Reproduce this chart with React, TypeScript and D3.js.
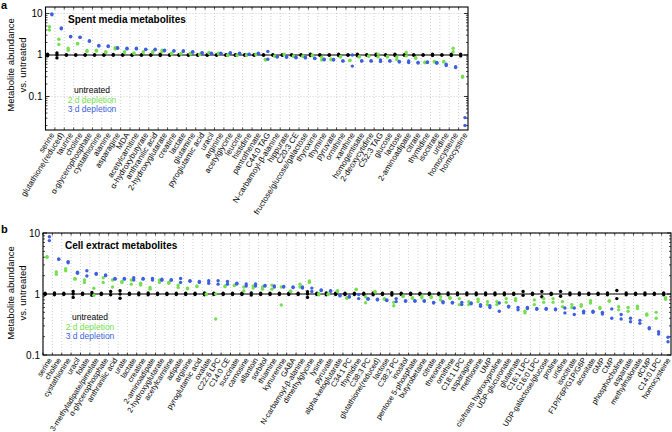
import React from 'react';
import * as d3 from 'd3';

const catsA = ['serine','glutathione(reduced)','taurine','choline','α-glycerophosphate','cystathionine','alanine','asparagine','MDA','acetylcarnitine','α-hydroxybutyrate','anthranilic acid','2-hydroxyglutarate','creatine','lactate','glutamine','pyroglutamic acid','uracil','arginine','acetylglycine','leucine','histidine','pantothenate','C44:0 TAG','N-carbamoyl-β-alanine','hippurate','C20:3 CE','fructose/glucose/galactose','thyroxine','thymine','pyruvate','ornithine','xanthine','homogentisate','2-deoxycytidine','C52:3 TAG','glucose','lactose','2-aminoadipate','citrate','thymidine','isocitrate','uridine','homocysteine','homocystine'];

const untreatedA = [[1.05,1.0,0.96],[1.12,1.0,0.85],[1.02,0.98],[1.02,0.98],[1.02,0.98],[1.02,0.98],[1.02,0.98],[1.03,0.98],[1.02,0.98],[1.02,0.98],[1.02,0.98],[1.02,0.98],[1.04,0.97],[1.02,0.98],[1.02,0.98],[1.02,0.98],[1.02,0.98],[1.02,0.98],[1.02,0.98],[1.02,0.98],[1.02,0.98],[1.02,0.98],[1.02,0.98],[1.02,0.98],[1.02,0.98],[1.02,0.98],[1.02,0.98],[1.02,0.98],[1.04,0.97],[1.02,0.98],[1.02,0.98],[1.04,0.97],[1.02,0.98],[1.04,0.96],[1.02,0.98],[1.04,0.97],[1.02,0.98],[1.04,0.97],[1.02,0.98],[1.02,0.98],[1.02,0.98],[1.04,0.97],[1.02,0.98],[1.04,0.97],[1.05,0.95]];

const depl2A = [[4.8,4.0],[2.4,1.8],[1.45,1.3],[1.9,1.85],[1.28,1.22],[1.3,1.25],[1.2,1.15],[1.5,1.4],[1.2,1.15],[1.12,1.08],[1.2,1.15],[1.2,1.15],[1.3,1.2],[1.1,1.05],[1.08,1.05],[1.1,1.05],[1.05,1.02],[1.15,1.1],[1.1,1.05],[1.0,0.97],[1.0,0.98],[1.02,0.98],[1.05,1.02],[0.78,0.76],[0.95,0.93],[1.05,1.02],[0.95,0.93],[0.95,0.92],[1.0,0.97],[0.88,0.76],[0.8,0.77],[0.92,0.89],[0.75,0.73],[0.92,0.89],[0.95,0.93],[1.05,0.9],[0.92,0.9],[0.9,0.78],[1.15,0.95],[0.86,0.84],[0.67,0.65],[0.7,0.68],[0.7,0.68],[1.45,1.2],[0.31,0.29]];

const depl3A = [[9.8,9.3],[4.5,4.3],[2.8,2.75],[2.7,2.65],[2.2,2.15],[1.7,1.65],[1.65,1.6],[1.5,1.45],[1.45,1.4],[1.45,1.4],[1.38,1.35],[1.37,1.33],[1.3,1.27],[1.27,1.24],[1.27,1.22],[1.2,1.17],[1.14,1.12],[1.1,1.08],[1.1,1.08],[1.14,1.1],[1.1,1.08],[1.05,1.03],[1.1,1.07],[1.22,0.79],[0.91,0.9],[0.91,0.88],[0.88,0.86],[0.88,0.85],[0.84,0.82],[0.79,0.77],[0.78,0.76],[0.73,0.71],[1.0,0.54],[0.73,0.71],[0.73,0.71],[0.76,0.7],[0.73,0.71],[0.7,0.68],[0.72,0.66],[0.66,0.64],[0.68,0.66],[0.66,0.63],[0.6,0.56],[0.52,0.5],[0.031,0.02]];

const catsB = ['serine','choline','cystathionine','uracil','folate','3-methyladipate/pimelate','α-glycerophosphate','anthranilic acid','urate','lactate','creatine','2-aminoadipate','2-hydroxyglutarate','acetylcarnitine','adipate','arginine','pyroglutamic acid','oxalate','C22:6 LPC','C14:0 CE','succinate','carnosine','allantoin','sorbitol','thiamine','kynurenine','GABA','N-carbamoyl-β-alanine','dimethylglycine','lysine','pyruvate','alpha-ketoglutarate','C34:1 PC','thymidine','C38:3 PC','glutathione(reduced)','lactose','C38:2 PC','inositol','pentose 5-phosphate','butyrobetaine','citrate','threonine','ornithine','C18:1 LPC','asparagine','methionine','UMP','cis/trans hydroxyproline','UDP-glucuronate','glutamate','C16:1 LPC','C16:0 LPC','UDP-galactose/glucose','proline','uridine','isocitrate','F1P/F6P/G1P/G6P','aconitate','GMP','CMP','phosphocholine','aspartate','methylmalonate','dCMP','C14:0 LPC','homocysteine'];

const untreatedB = [[1.03,0.98],[1.04,0.97],[1.03,0.98],[1.1,1.0,0.88],[1.03,0.98],[1.06,0.95],[1.03,0.98],[1.1,0.97],[1.13,1.0,0.85],[1.03,0.98],[1.04,0.97],[1.04,0.97],[1.03,0.98],[1.03,0.98],[1.03,0.98],[1.03,0.98],[1.03,0.98],[1.04,0.97],[1.03,0.98],[1.03,0.98],[1.03,0.98],[1.03,0.98],[1.04,0.96],[1.03,0.98],[1.03,0.98],[1.03,0.98],[1.03,0.98],[1.03,0.98],[1.09,1.0,0.88],[1.03,0.98],[1.04,0.97],[1.03,0.98],[1.03,0.98],[1.03,0.98],[1.03,0.98],[1.04,0.97],[1.03,0.98],[1.05,0.96],[1.03,0.98],[1.03,0.98],[1.03,0.98],[1.03,0.98],[1.03,0.98],[1.04,0.97],[1.04,0.97],[1.04,0.97],[1.04,0.97],[1.04,0.97],[1.04,0.97],[1.04,0.97],[1.03,0.98],[1.1,0.95],[1.03,0.98],[1.1,0.9],[1.03,0.98],[1.1,0.92],[1.04,0.97],[1.04,0.97],[1.03,0.98],[1.03,0.98],[1.04,0.97],[1.14,0.84],[1.04,0.97],[1.03,0.98],[1.04,0.97],[1.03,0.98],[1.04,0.97]];

const depl2B = [[4.1,4.0],[2.3,2.1],[2.6,2.4],[1.8,1.75],[1.7,1.55],[1.24,0.95],[1.85,1.55],[1.7,1.3],[1.6,1.55],[1.7,1.45],[1.5,1.4],[1.28,1.2],[1.7,1.55],[1.55,1.5],[1.4,1.28],[1.25,1.22],[1.35,1.32],[1.0,0.98],[1.0,0.39],[1.35,1.32],[1.4,1.38],[1.3,1.12],[1.35,1.25],[1.3,1.2],[1.4,1.2],[1.3,0.66],[1.12,1.1],[1.45,1.3],[1.63,1.55],[1.02,0.97],[1.0,0.98],[1.13,1.1],[0.87,0.85],[1.2,1.18],[0.9,0.72],[1.1,1.08],[0.84,0.82],[0.73,0.64],[0.93,0.91],[0.87,0.85],[0.93,0.87],[0.9,0.88],[0.9,0.8],[0.87,0.85],[0.84,0.67],[0.75,0.67],[0.82,0.75],[0.75,0.67],[0.75,0.67],[0.84,0.73],[0.84,0.78],[0.52,0.49],[0.8,0.67],[0.84,0.73],[0.84,0.73],[0.75,0.62],[0.67,0.6],[0.67,0.63],[0.78,0.71],[0.6,0.58],[0.78,0.76],[0.62,0.55],[0.6,0.52],[0.63,0.58],[0.47,0.45],[0.5,0.4],[0.87,0.82]];

const depl3B = [[8.7,7.5],[3.75,3.7],[3.4,3.25],[2.27,2.18],[2.4,1.97],[2.18,2.1],[2.05,2.0],[1.8,1.75],[1.8,1.75],[1.85,1.7],[1.8,1.75],[1.8,1.7],[1.75,1.68],[1.72,1.68],[1.8,1.55],[1.65,1.62],[1.6,1.55],[1.65,1.5],[1.65,1.45],[1.6,1.45],[1.5,1.46],[1.46,1.35],[1.46,1.35],[1.38,1.35],[1.35,1.3],[1.33,1.3],[1.3,1.28],[1.3,1.25],[1.25,1.1],[1.16,1.14],[1.13,1.11],[0.95,0.93],[0.91,0.89],[0.98,0.84],[0.84,0.82],[0.82,0.8],[0.8,0.78],[0.84,0.75],[0.78,0.76],[0.78,0.76],[0.78,0.76],[0.73,0.71],[0.75,0.72],[0.73,0.71],[0.73,0.67],[0.71,0.69],[0.67,0.63],[0.64,0.6],[0.71,0.52],[0.63,0.61],[0.6,0.55],[0.6,0.58],[0.58,0.56],[0.58,0.56],[0.57,0.55],[0.59,0.49],[0.59,0.46],[0.52,0.49],[0.52,0.5],[0.5,0.47],[0.57,0.4],[0.46,0.39],[0.4,0.35],[0.37,0.33],[0.28,0.27],[0.24,0.22],[0.195,0.165]];

const yTickVals = [10, 1, 0.1];
const yTickLabels = ['10', '1', '0.1'];
const legendLabels = ['untreated', '2 d depletion', '3 d depletion'];

const BLACK = '#000000';
const GREEN = '#74e04f';
const BLUE = '#3d5fe0';
const FONT = 'Liberation Sans, Arial, Helvetica, sans-serif';

type PanelProps = {
  cats: string[]; ctl: number[][]; g2: number[][]; b3: number[][];
  L: number; R: number; T: number; B: number; yLo: number; yHi: number;
  title: string; titleX: number; titleY: number; legX: number; legY: number;
  letter: string; letterY: number; ylabelY: number; labelSize: number;
};

function Panel(p: PanelProps) {
  const n = p.cats.length;
  const x = d3.scaleLinear().domain([1, n + 1]).range([p.L, p.R]);
  const y = d3.scaleLog().domain([p.yLo, p.yHi]).range([p.B, p.T]);
  const eLo = Math.floor(Math.log10(p.yLo));
  const eHi = Math.ceil(Math.log10(p.yHi));
  const minor: number[] = [];
  const major: number[] = [];
  for (let e = eLo; e <= eHi; e++) {
    for (let m = 1; m <= 9; m++) {
      const v = m * Math.pow(10, e);
      if (v >= p.yLo * 0.999 && v <= p.yHi * 1.001) (m === 1 ? major : minor).push(v);
    }
  }
  const idx = d3.range(1, n + 1);
  const series = [
    { data: p.ctl, off: 0.22, color: BLACK, r: 1.7 },
    { data: p.g2, off: 0.42, color: GREEN, r: 1.7 },
    { data: p.b3, off: 0.68, color: BLUE, r: 1.7 },
  ];
  return (
    <g>
      {idx.map((k) => (
        <line key={'g' + k} x1={x(k)} x2={x(k)} y1={p.T} y2={p.B} stroke="#b0b0b0" strokeWidth={0.6} strokeDasharray="1,2" />
      ))}
      {major.map((v) => (
        <line key={'hg' + v} x1={p.L} x2={p.R} y1={y(v)} y2={y(v)} stroke="#b0b0b0" strokeWidth={0.6} strokeDasharray="1,2" />
      ))}
      {idx.map((k) => (
        <g key={'t' + k}>
          <line x1={x(k)} x2={x(k)} y1={p.T} y2={p.T + 2.5} stroke="#000" strokeWidth={0.7} />
          <line x1={x(k)} x2={x(k)} y1={p.B} y2={p.B - 2.5} stroke="#000" strokeWidth={0.7} />
        </g>
      ))}
      {minor.map((v) => (
        <g key={'m' + v}>
          <line x1={p.L} x2={p.L + 2} y1={y(v)} y2={y(v)} stroke="#000" strokeWidth={0.7} />
          <line x1={p.R} x2={p.R - 2} y1={y(v)} y2={y(v)} stroke="#000" strokeWidth={0.7} />
        </g>
      ))}
      {major.map((v) => (
        <g key={'M' + v}>
          <line x1={p.L} x2={p.L + 4} y1={y(v)} y2={y(v)} stroke="#000" strokeWidth={0.8} />
          <line x1={p.R} x2={p.R - 4} y1={y(v)} y2={y(v)} stroke="#000" strokeWidth={0.8} />
        </g>
      ))}
      <line x1={p.L} x2={p.R} y1={y(1)} y2={y(1)} stroke="#000" strokeWidth={1.1} />
      {series.map((s, si) => (
        <g key={'s' + si}>
          {s.data.map((vals, i) =>
            vals.map((v, j) => (
              <circle key={i + '-' + j} cx={x(i + 1 + s.off)} cy={y(v)} r={s.r} fill={s.color} />
            ))
          )}
        </g>
      ))}
      <rect x={p.L} y={p.T} width={p.R - p.L} height={p.B - p.T} fill="none" stroke="#000" strokeWidth={1.1} />
      {yTickVals.map((v, i) => (
        <text key={'yl' + i} x={p.L - 3} y={y(v)} dy="0.35em" textAnchor="end" fontSize={10} fontFamily={FONT}>{yTickLabels[i]}</text>
      ))}
      {p.cats.map((c, i) => {
        const ax = x(i + 1.75);
        const ay = p.B + 3.5;
        return (
          <text key={'c' + i} transform={`translate(${ax},${ay}) rotate(-58)`} textAnchor="end" dominantBaseline="central" fontSize={p.labelSize} fontFamily={FONT}>{c}</text>
        );
      })}
      <text transform={`translate(14,${p.ylabelY}) rotate(-90)`} textAnchor="middle" fontSize={9.5} fontFamily={FONT}>Metabolite abundance</text>
      <text transform={`translate(26,${p.ylabelY}) rotate(-90)`} textAnchor="middle" fontSize={9.5} fontFamily={FONT}>vs. untreated</text>
      <text x={p.titleX} y={p.titleY} fontSize={10} fontWeight="bold" fontFamily={FONT}>{p.title}</text>
      {legendLabels.map((l, i) => (
        <text key={'lg' + i} x={p.legX} y={p.legY + i * 9.7} textAnchor="middle" fontSize={8.5} fontFamily={FONT} fill={[BLACK, GREEN, BLUE][i]}>{l}</text>
      ))}
      <text x={1} y={p.letterY} fontSize={11} fontWeight="bold" fontFamily={FONT}>{p.letter}</text>
    </g>
  );
}

export default function App() {
  return (
    <svg width={672} height={432} style={{ position: 'absolute', left: 0, top: 0, background: '#fff' }}>
      <Panel cats={catsA} ctl={untreatedA} g2={depl2A} b3={depl3A}
        L={45.5} R={468} T={7} B={130} yLo={0.01558} yHi={14.33}
        title="Spent media metabolites" titleX={68} titleY={22.5} legX={92} legY={93}
        letter="a" letterY={9} ylabelY={65} labelSize={8} />
      <Panel cats={catsB} ctl={untreatedB} g2={depl2B} b3={depl3B}
        L={43} R={671} T={233} B={355} yLo={0.1} yHi={10}
        title="Cell extract metabolites" titleX={65} titleY={249} legX={90} legY={320}
        letter="b" letterY={233} ylabelY={293} labelSize={7.6} />
    </svg>
  );
}
